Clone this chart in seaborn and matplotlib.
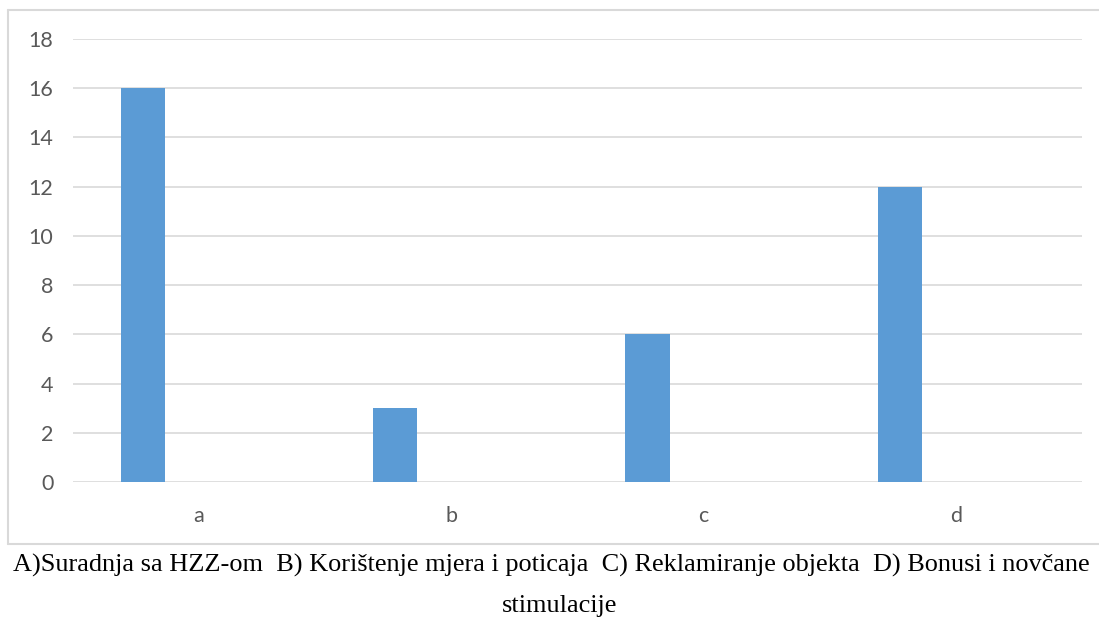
import matplotlib
matplotlib.use("Agg")
import matplotlib.pyplot as plt
from matplotlib.lines import Line2D
import pandas as pd
import seaborn as sns

categories = ["a", "b", "c", "d"]
series1 = [16, 3, 6, 12]
series2 = [0, 0, 0, 0]  # empty second series in the original sheet
yticks = [0, 2, 4, 6, 8, 10, 12, 14, 16, 18]
caption_1 = "A)Suradnja sa HZZ-om  B) Korištenje mjera i poticaja  C) Reklamiranje objekta  D) Bonusi i novčane"
caption_2 = "stimulacije"

df = pd.DataFrame({
    "kat": categories * 2,
    "val": series1 + series2,
    "ser": ["s1"] * 4 + ["s2"] * 4,
})

sns.set_style("white")
plt.rcParams["font.family"] = ["Lato", "DejaVu Sans"]

fig = plt.figure(figsize=(10.99, 6.21), dpi=100)
ax = fig.add_axes([0.0664, 0.2238, 0.9181, 0.7134])

sns.barplot(data=df, x="kat", y="val", hue="ser", order=categories,
            palette=["#5B9BD5", "#ED7D31"], saturation=1, width=0.889, gap=0.607,
            linewidth=0, legend=False, ax=ax)

ax.set_ylim(0, 18)
ax.set_xlim(-0.5, 3.5)
ax.set_yticks(yticks)
ax.yaxis.grid(True, color="#D9D9D9", linewidth=1.2)
ax.set_axisbelow(True)
for s in ax.spines.values():
    s.set_visible(False)
ax.tick_params(axis="both", length=0, labelsize=15.5, labelcolor="#595959")
ax.tick_params(axis="y", pad=14)
ax.tick_params(axis="x", pad=17)
ax.set_xlabel("")
ax.set_ylabel("")

# chart frame: top, left, bottom (right side runs off the picture)
fc = "#D9D9D9"
x0, y0, y1 = 0.0073, 0.124, 0.984
for xs, ys in [([x0, 1.0], [y1, y1]), ([x0, x0], [y0, y1]), ([x0, 1.0], [y0, y0])]:
    fig.add_artist(Line2D(xs, ys, transform=fig.transFigure, color=fc, linewidth=1.5))

# caption below the chart
fig.text(0.0118, 0.089, caption_1, family="Liberation Serif", fontsize=18.9,
         ha="left", va="center", color="black")
fig.text(0.509, 0.024, caption_2, family="Liberation Serif", fontsize=18.9,
         ha="center", va="center", color="black")

fig.savefig("out.png", dpi=100)
